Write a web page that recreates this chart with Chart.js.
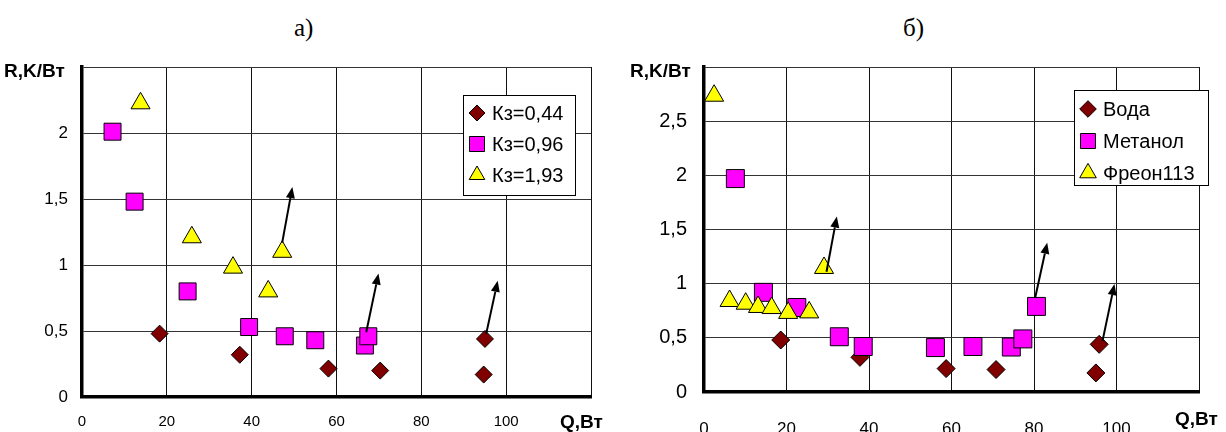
<!DOCTYPE html>
<html>
<head>
<meta charset="utf-8">
<script src="https://cdn.jsdelivr.net/npm/chart.js@4/dist/chart.umd.min.js"></script>
<style>
  body { margin: 0; background: #fff; }
  #wrap { position: relative; width: 1226px; height: 432px; overflow: hidden; background: #fff; }
  #wrap canvas { position: absolute; top: 0; }
  .cap { position: absolute; top: 14px; font-family: "Liberation Serif", "Times New Roman", serif; font-size: 25px; color: #000; }
</style>
</head>
<body>
<div id="wrap">
  <div class="cap" style="left:294px">а)</div>
  <div class="cap" style="left:903px">б)</div>
  <canvas id="chartA" width="620" height="432" style="left:0"></canvas>
  <canvas id="chartB" width="606" height="432" style="left:620px"></canvas>
</div>
<script>
// ---- а) R(Q) при разных Кз ----
const kz044Q = [18.3, 37.2, 58.1, 70.3, 95.0, 94.7];
const kz044R = [0.48, 0.32, 0.215, 0.20, 0.44, 0.17];
const kz096Q = [7.2, 12.4, 24.9, 39.4, 47.8, 55.0, 66.7, 67.5];
const kz096R = [2.01, 1.48, 0.80, 0.53, 0.46, 0.43, 0.39, 0.46];
const kz193Q = [13.8, 25.9, 35.6, 43.9, 47.2];
const kz193R = [2.225, 1.21, 0.98, 0.80, 1.10];
const labelsA = ['Кз=0,44', 'Кз=0,96', 'Кз=1,93'];
// стрелки (начало -> конец)
const arrowA = { q0: [47.2, 67.0, 95.3], r0: [1.17, 0.49, 0.48], q1: [49.6, 69.9, 98.0], r1: [1.59, 0.935, 0.88] };

// ---- б) R(Q) для разных теплоносителей ----
const vodaQ = [18.6, 37.8, 58.7, 70.8, 95.8, 95.0];
const vodaR = [0.48, 0.32, 0.216, 0.207, 0.44, 0.176];
const metanolQ = [7.6, 14.4, 22.5, 32.8, 38.6, 56.1, 65.2, 74.5, 77.3, 80.6];
const metanolR = [1.97, 0.92, 0.78, 0.51, 0.42, 0.41, 0.42, 0.415, 0.49, 0.79];
const freonQ = [2.45, 6.2, 10.1, 13.1, 16.4, 20.4, 25.5, 29.1];
const freonR = [2.735, 0.84, 0.815, 0.785, 0.775, 0.73, 0.735, 1.145];
const labelsB = ['Вода', 'Метанол', 'Фреон113'];
const arrowB = { q0: [29.7, 80.3, 96.6], r0: [1.11, 0.873, 0.47], q1: [32.2, 83.2, 99.5], r1: [1.62, 1.378, 0.996] };

// подписи осей
const xTicks = ['0', '20', '40', '60', '80', '100', ''];
const yTicksA = ['0', '0,5', '1', '1,5', '2', ''];
const yTicksB = ['0', '0,5', '1', '1,5', '2', '2,5', ''];

const FONT = '"Liberation Sans", Arial, sans-serif';

function pts(qs, rs) {
  return qs.map((q, i) => ({ x: q, y: rs[i] }));
}

function drawMarker(ctx, style, r, x, y) {
  ctx.beginPath();
  if (style === 'rectRot') {
    ctx.moveTo(x - r, y); ctx.lineTo(x, y - r); ctx.lineTo(x + r, y); ctx.lineTo(x, y + r);
  } else if (style === 'rect') {
    const s = Math.SQRT1_2 * r;
    ctx.rect(x - s, y - s, 2 * s, 2 * s);
  } else {
    ctx.moveTo(x, y - r);
    ctx.lineTo(x + r * Math.cos(Math.PI / 6), y + r / 2);
    ctx.lineTo(x - r * Math.cos(Math.PI / 6), y + r / 2);
  }
  ctx.closePath();
  ctx.fill();
  ctx.stroke();
}

// стрелки, легенда и названия осей
const extras = {
  id: 'extras',
  afterDatasetsDraw(chart, args, o) {
    const ctx = chart.ctx;
    const sx = chart.scales.x, sy = chart.scales.y;
    ctx.save();
    ctx.strokeStyle = '#000';
    ctx.fillStyle = '#000';
    ctx.lineWidth = 2;
    o.arrows.q0.forEach((q, i) => {
      const x0 = sx.getPixelForValue(q), y0 = sy.getPixelForValue(o.arrows.r0[i]);
      const x1 = sx.getPixelForValue(o.arrows.q1[i]), y1 = sy.getPixelForValue(o.arrows.r1[i]);
      const a = Math.atan2(y1 - y0, x1 - x0);
      const hl = 11, hw = 4.5;
      const bx = x1 - hl * Math.cos(a), by = y1 - hl * Math.sin(a);
      ctx.beginPath(); ctx.moveTo(x0, y0); ctx.lineTo(bx, by); ctx.stroke();
      ctx.beginPath();
      ctx.moveTo(x1, y1);
      ctx.lineTo(bx + hw * Math.sin(a), by - hw * Math.cos(a));
      ctx.lineTo(bx - hw * Math.sin(a), by + hw * Math.cos(a));
      ctx.closePath(); ctx.fill();
    });

    // легенда
    const L = o.legend;
    ctx.fillStyle = '#fff';
    ctx.fillRect(L.x, L.y, L.w, L.h);
    ctx.strokeStyle = '#000';
    ctx.lineWidth = 1;
    ctx.strokeRect(L.x + 0.5, L.y + 0.5, L.w, L.h);
    ctx.font = '20px ' + FONT;
    ctx.textBaseline = 'middle';
    ctx.textAlign = 'left';
    L.order.forEach((di, k) => {
      const ds = chart.data.datasets[di];
      const cy = L.y + L.top + k * L.gap;
      ctx.fillStyle = ds.backgroundColor;
      ctx.strokeStyle = '#000';
      ctx.lineWidth = 1;
      drawMarker(ctx, ds.pointStyle, L.radius[k], L.x + L.mx, cy);
      ctx.fillStyle = '#000';
      ctx.fillText(ds.label, L.x + L.tx, cy + 1);
    });

    // названия осей
    ctx.font = 'bold 19px ' + FONT;
    ctx.fillStyle = '#000';
    ctx.textAlign = 'left';
    ctx.fillText('R,K/Вт', o.yTitle[0], o.yTitle[1]);
    ctx.fillText('Q,Вт', o.xTitle[0], o.xTitle[1]);
    ctx.restore();
  }
};

function makeChart(id, sets, yMax, yTicks, sz, pad, extraOpts) {
  const series = [
    { label: sets.labels[0], data: pts(sets.q[0], sets.r[0]), pointStyle: 'rectRot', pointRadius: sz.d, backgroundColor: '#800000', order: 3 },
    { label: sets.labels[1], data: pts(sets.q[1], sets.r[1]), pointStyle: 'rect', pointRadius: sz.s, backgroundColor: '#ff00ff', order: 2 },
    { label: sets.labels[2], data: pts(sets.q[2], sets.r[2]), pointStyle: 'triangle', pointRadius: sz.t, backgroundColor: '#ffff00', order: 1 }
  ];
  series.forEach(ds => {
    ds.borderColor = '#000';
    ds.borderWidth = 1;
    ds.pointHoverRadius = ds.pointRadius;
    ds.pointBorderWidth = 1;
    ds.pointHoverBorderWidth = 1;
  });

  return new Chart(document.getElementById(id), {
    type: 'scatter',
    data: { datasets: series },
    options: {
      responsive: false,
      animation: false,
      events: [],
      layout: { padding: { top: pad.top, right: pad.right, left: 0, bottom: 0 } },
      plugins: {
        legend: { display: false },
        tooltip: { enabled: false },
        extras: extraOpts
      },
      scales: {
        x: {
          type: 'linear',
          min: 0,
          max: 120,
          afterFit: s => { s.height = pad.xh; },
          ticks: {
            stepSize: 20,
            autoSkip: false,
            maxRotation: 0,
            color: '#000',
            padding: pad.xp,
            font: { family: FONT, size: pad.xf },
            callback: (v, i) => xTicks[i]
          },
          grid: { color: '#111', lineWidth: 1, drawTicks: false },
          border: { display: true, color: '#000', width: 3.5 }
        },
        y: {
          min: 0,
          max: yMax,
          afterFit: s => { s.width = pad.yw; },
          ticks: {
            stepSize: 0.5,
            autoSkip: false,
            color: '#000',
            padding: pad.yp,
            font: { family: FONT, size: pad.yf },
            callback: (v, i) => yTicks[i]
          },
          grid: { color: '#333', lineWidth: 1, drawTicks: false },
          border: { display: true, color: '#000', width: 3.5 }
        }
      }
    },
    plugins: [extras]
  });
}

makeChart('chartA',
  { labels: labelsA, q: [kz044Q, kz096Q, kz193Q], r: [kz044R, kz096R, kz193R] },
  2.5, yTicksA,
  { d: 8.5, s: 12, t: 11 },
  { top: 67, right: 29, xh: 35, yw: 82, xp: 16, yp: 14, xf: 15, yf: 17 },
  {
    arrows: arrowA,
    legend: { x: 463, y: 95, w: 112, h: 100, top: 18, gap: 31, mx: 14, tx: 29, radius: [8, 10.6, 9], order: [0, 1, 2] },
    yTitle: [4, 72],
    xTitle: [560, 423]
  });

makeChart('chartB',
  { labels: labelsB, q: [vodaQ, metanolQ, freonQ], r: [vodaR, metanolR, freonR] },
  3, yTicksB,
  { d: 9, s: 12.7, t: 11 },
  { top: 67, right: 15, xh: 40, yw: 84, xp: 27, yp: 17, xf: 17, yf: 20 },
  {
    arrows: arrowB,
    legend: { x: 454, y: 90, w: 134, h: 95, top: 19, gap: 32, mx: 14, tx: 29, radius: [8.3, 10.6, 9.6], order: [0, 1, 2] },
    yTitle: [10, 72],
    xTitle: [555, 420]
  });
</script>
</body>
</html>
